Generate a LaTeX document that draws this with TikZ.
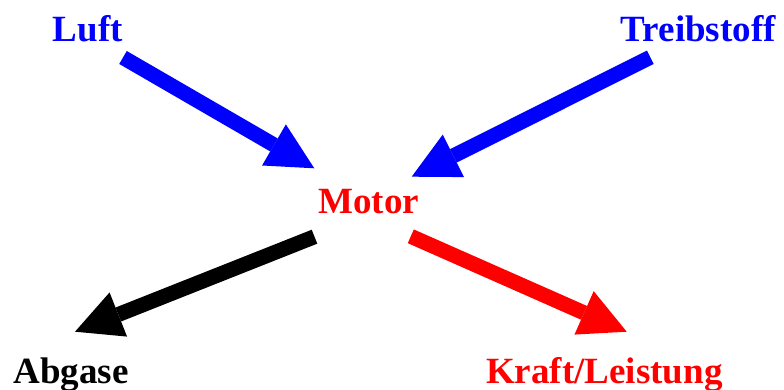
\documentclass[tikz,border=0pt]{standalone}
\usepackage{fontspec}
\setmainfont{Liberation Serif}
\usetikzlibrary{arrows.meta}
\definecolor{pureblue}{RGB}{0,0,255}
\definecolor{purered}{RGB}{255,0,0}
\tikzset{
  lbl/.style={anchor=base west, inner sep=0pt, font=\fontsize{37}{40}\selectfont\bfseries},
  bigarrow/.style={line width=15pt, line cap=butt,
    -{Triangle[length=46.6pt, width=47.5pt, line width=0pt]}},
}
\begin{document}
\begin{tikzpicture}[x=1pt, y=-1pt]
\useasboundingbox (0,0) rectangle (784,390);
\node[lbl, text=pureblue] (luft) at (52.7,41.7) {Luft};
\node[lbl, text=pureblue] (treib) at (620.7,41.7) {Treibstoff};
\node[lbl, text=purered] (motor) at (318.3,213.3) {Motor};
\node[lbl, text=black] (abgase) at (13.3,383.3) {Abgase};
\node[lbl, text=purered] (kraft) at (486,383.3) {Kraft/Leistung};
\coordinate (a1s) at (123,57.5);
\coordinate (a1e) at (314.3,168.3);
\coordinate (a2s) at (650.3,57.3);
\coordinate (a2e) at (411.7,176.7);
\coordinate (a3s) at (314.5,236.7);
\coordinate (a3e) at (75,331.7);
\coordinate (a4s) at (410.8,236.3);
\coordinate (a4e) at (626.7,331.7);
\draw[bigarrow, pureblue] (a1s) -- (a1e);
\draw[bigarrow, pureblue] (a2s) -- (a2e);
\draw[bigarrow, black] (a3s) -- (a3e);
\draw[bigarrow, purered] (a4s) -- (a4e);
\end{tikzpicture}
\end{document}
